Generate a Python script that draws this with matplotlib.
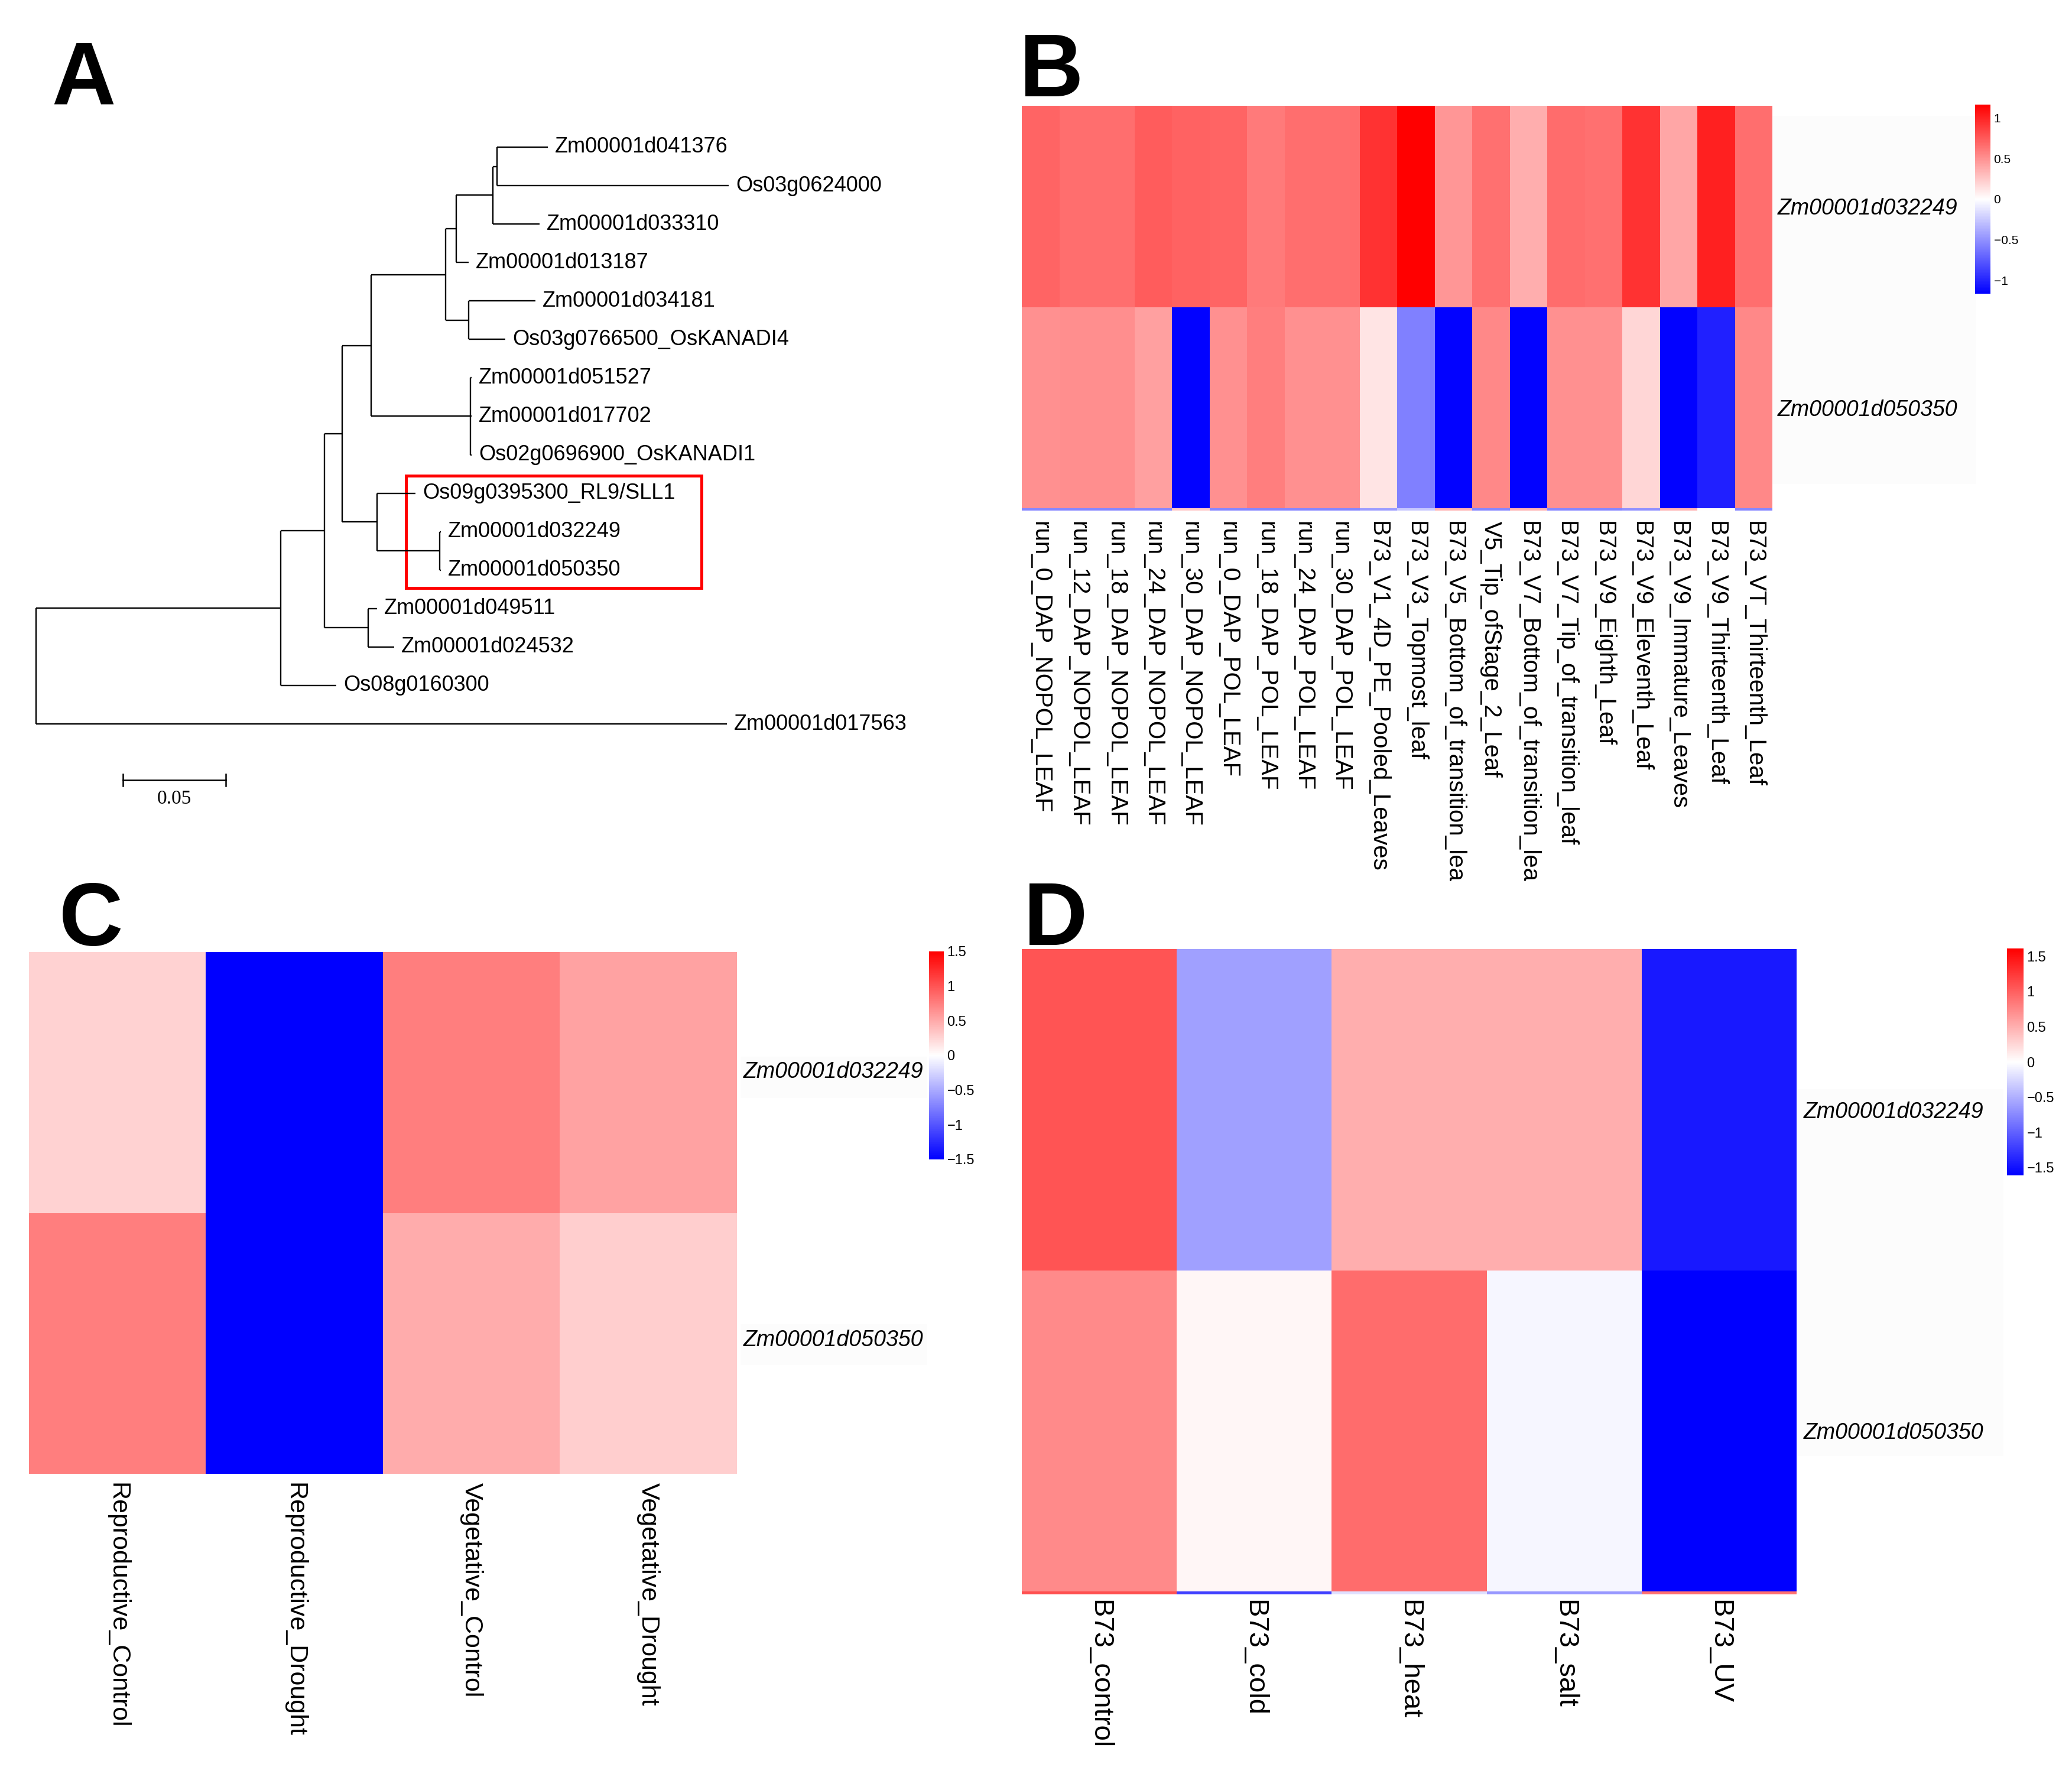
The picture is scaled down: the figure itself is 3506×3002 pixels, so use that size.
import numpy as np
import matplotlib
matplotlib.use('Agg')
import matplotlib.pyplot as plt
from matplotlib.colors import LinearSegmentedColormap, Normalize
from matplotlib.cm import ScalarMappable
from matplotlib.patches import Rectangle

plt.rcParams['font.family'] = ['Liberation Sans', 'DejaVu Sans']

# ---- panel A: tree (branch depth, scale bar = 0.05)
leaf_names = ['Zm00001d041376', 'Os03g0624000', 'Zm00001d033310', 'Zm00001d013187',
              'Zm00001d034181', 'Os03g0766500_OsKANADI4', 'Zm00001d051527',
              'Zm00001d017702', 'Os02g0696900_OsKANADI1', 'Os09g0395300_RL9/SLL1',
              'Zm00001d032249', 'Zm00001d050350', 'Zm00001d049511', 'Zm00001d024532',
              'Os08g0160300', 'Zm00001d017563']
leaf_x = [0.248, 0.336, 0.244, 0.2097, 0.242, 0.2274, 0.2112, 0.2112, 0.2112,
          0.1838, 0.1962, 0.1962, 0.1653, 0.1735, 0.1456, 0.335]
# internal nodes, children first
node_names = ['n13', 'n12', 'n11', 'n10', 'n9', 'n8', 'n7', 'n6', 'n5', 'n4', 'n3', 'n2', 'n1', 'root']
node_x = [0.2235, 0.2215, 0.2038, 0.2097, 0.1985, 0.2106, 0.1624, 0.1956, 0.1653,
          0.1485, 0.161, 0.1397, 0.1185, 0.0]
node_children = [
    ['Zm00001d041376', 'Os03g0624000'],
    ['n13', 'Zm00001d033310'],
    ['n12', 'Zm00001d013187'],
    ['Zm00001d034181', 'Os03g0766500_OsKANADI4'],
    ['n11', 'n10'],
    ['Zm00001d051527', 'Zm00001d017702', 'Os02g0696900_OsKANADI1'],
    ['n9', 'n8'],
    ['Zm00001d032249', 'Zm00001d050350'],
    ['Os09g0395300_RL9/SLL1', 'n6'],
    ['n7', 'n5'],
    ['Zm00001d049511', 'Zm00001d024532'],
    ['n4', 'n3'],
    ['n2', 'Os08g0160300'],
    ['n1', 'Zm00001d017563'],
]

genes = ['Zm00001d032249', 'Zm00001d050350']

# ---- panel B
b_samples = ['run_0_DAP_NOPOL_LEAF', 'run_12_DAP_NOPOL_LEAF', 'run_18_DAP_NOPOL_LEAF',
             'run_24_DAP_NOPOL_LEAF', 'run_30_DAP_NOPOL_LEAF', 'run_0_DAP_POL_LEAF',
             'run_18_DAP_POL_LEAF', 'run_24_DAP_POL_LEAF', 'run_30_DAP_POL_LEAF',
             'B73_V1_4D_PE_Pooled_Leaves', 'B73_V3_Topmost_leaf',
             'B73_V5_Bottom_of_transition_lea', 'V5_Tip_ofStage_2_Leaf',
             'B73_V7_Bottom_of_transition_lea', 'B73_V7_Tip_of_transition_leaf',
             'B73_V9_Eighth_Leaf', 'B73_V9_Eleventh_Leaf', 'B73_V9_Immature_Leaves',
             'B73_V9_Thirteenth_Leaf', 'B73_VT_Thirteenth_Leaf']
b_row1 = [0.70, 0.66, 0.66, 0.74, 0.71, 0.70, 0.60, 0.66, 0.66, 0.93,
          1.16, 0.48, 0.65, 0.37, 0.67, 0.65, 0.93, 0.40, 1.01, 0.66]
b_row2 = [0.50, 0.51, 0.51, 0.43, -1.15, 0.50, 0.58, 0.50, 0.50, 0.12,
          -0.58, -1.15, 0.54, -1.15, 0.50, 0.50, 0.19, -1.15, -1.01, 0.54]
b_edge = [-0.55, -0.55, -0.55, -0.55, 0.25, -0.55, -0.55, -0.55, -0.55, -0.45,
          -0.25, 0.35, -0.55, 0.35, -0.55, -0.55, -0.5, 0.35, 0.0, -0.55]
b_ticks = [-1, -0.5, 0, 0.5, 1]

# ---- panel C
c_samples = ['Reproductive_Control', 'Reproductive_Drought', 'Vegetative_Control', 'Vegetative_Drought']
c_row1 = [0.26, -1.5, 0.75, 0.55]
c_row2 = [0.75, -1.5, 0.49, 0.29]
c_ticks = [-1.5, -1, -0.5, 0, 0.5, 1, 1.5]

# ---- panel D
d_samples = ['B73_control', 'B73_cold', 'B73_heat', 'B73_salt', 'B73_UV']
d_row1 = [1.07, -0.6, 0.51, 0.51, -1.45]
d_row2 = [0.74, 0.06, 0.93, -0.06, -1.61]
d_edge = [1.1, -1.2, -0.2, -0.65, 0.9]
d_ticks = [-1.5, -1, -0.5, 0, 0.5, 1, 1.5]

W, H = 3506, 3002
fig = plt.figure(figsize=(W / 100, H / 100), dpi=100)
cmap = LinearSegmentedColormap.from_list('bwr3', ['#0000ff', '#ffffff', '#ff0000'], N=256)


def box(x0, y0, x1, y1):
    return [x0 / W, 1 - y1 / H, (x1 - x0) / W, (y1 - y0) / H]


def grey_bg(x0, y0, x1, y1):
    fig.add_artist(Rectangle((x0 / W, 1 - y1 / H), (x1 - x0) / W, (y1 - y0) / H,
                             transform=fig.transFigure, fc='#fcfcfc', ec='none', zorder=0))


# ---------------- A
ax = fig.add_axes(box(0, 0, 1700, 1450))
ax.set_facecolor('none')
px_unit = 3488.0
ax.set_xlim(-61.5 / px_unit, (1700 - 61.5) / px_unit)
ax.set_ylim((1450 - 249) / 65.07, -249 / 65.07)
ax.axis('off')

ypos = {n: i for i, n in enumerate(leaf_names)}
xpos = dict(zip(leaf_names, leaf_x))
for name, x, kids in zip(node_names, node_x, node_children):
    ys = [ypos[k] for k in kids]
    ypos[name] = (ys[0] + ys[-1]) / 2
    xpos[name] = x
    ax.plot([x, x], [ys[0], ys[-1]], color='black', lw=1.7, solid_capstyle='butt')
    for k in kids:
        ax.plot([x, xpos[k]], [ypos[k], ypos[k]], color='black', lw=1.7, solid_capstyle='butt')

for i, name in enumerate(leaf_names):
    ax.text(leaf_x[i] + 0.0035, i, name, va='center', ha='left', fontsize=26)

ax.add_patch(Rectangle((0.1793, 8.545), 0.1434, 2.92, fill=False, ec='#ff0000', lw=3.6))

sb_x0 = 0.042
ax.plot([sb_x0, sb_x0 + 0.05], [16.46, 16.46], color='black', lw=1.8)
for xx in (sb_x0, sb_x0 + 0.05):
    ax.plot([xx, xx], [16.30, 16.62], color='black', lw=1.8)
ax.text(sb_x0 + 0.025, 16.95, '0.05', ha='center', va='center', fontsize=24,
        family='Liberation Serif')


# ---------------- heatmaps
def heatmap(rect, rows, edge, edge_px, vlim, samples, xfs, xpad, ypad):
    x0, y0, x1, y1 = rect
    row_px = (y1 - y0) / len(rows)
    data = [list(r) for r in rows]
    yedges = list(range(len(rows) + 1))
    if edge is not None:
        data.append(list(edge))
        yedges.append(len(rows) + edge_px / row_px)
        y1 = y1 + edge_px
    a = fig.add_axes(box(x0, y0, x1, y1))
    a.pcolormesh(np.arange(len(samples) + 1), yedges, np.array(data), cmap=cmap,
                 vmin=-vlim, vmax=vlim, shading='flat', antialiased=False)
    a.set_xlim(0, len(samples))
    a.set_ylim(yedges[-1], 0)
    for s in a.spines.values():
        s.set_visible(False)
    a.set_xticks(np.arange(len(samples)) + 0.5)
    a.set_xticklabels(samples, rotation=-90, fontsize=xfs, ha='center', va='top')
    a.set_yticks(np.arange(len(rows)) + 0.5)
    a.set_yticklabels(genes, fontsize=27, style='italic')
    a.yaxis.tick_right()
    a.tick_params(axis='x', length=0, pad=xpad)
    a.tick_params(axis='y', length=0, pad=ypad)
    return a


def colorbar(rect, vlim, ticks, fs):
    cax = fig.add_axes(box(*rect))
    sm = ScalarMappable(norm=Normalize(-vlim, vlim), cmap=cmap)
    cb = fig.colorbar(sm, cax=cax, ticks=ticks)
    cb.outline.set_visible(False)
    cb.ax.set_yticklabels([f'{t:g}'.replace('-', '\u2212') for t in ticks])
    cax.tick_params(length=0, pad=4, labelsize=fs)


# B
grey_bg(2999, 196, 3343, 819)
heatmap((1729, 179, 2999, 860), [b_row1, b_row2], b_edge, 4, 1.16, b_samples, 29, 13, 6.5)
colorbar((3342, 177, 3368, 497), 1.16, b_ticks, 15)

# C
grey_bg(1253, 1788, 1569, 1858)
grey_bg(1253, 2240, 1569, 2310)
ax_c = heatmap((49, 1611, 1247, 2494), [c_row1, c_row2], None, 0, 1.5, c_samples, 31, 11, 8)
ax_c.set_yticks([0.45, 1.48])
ax_c.set_yticklabels(genes, fontsize=27, style='italic')
colorbar((1572, 1610, 1597, 1962), 1.5, c_ticks, 17)

# D
grey_bg(3042, 1843, 3390, 2464)
heatmap((1729, 1606, 3040, 2693), [d_row1, d_row2], d_edge, 5, 1.61, d_samples, 34, 6.5, 8.6)
colorbar((3396, 1605, 3424, 1989), 1.61, d_ticks, 17)

# panel letters
for letter, x, y in [('A', 87, 175), ('B', 1725, 163), ('C', 100, 1600), ('D', 1732, 1599)]:
    fig.text(x / W, 1 - y / H, letter, fontsize=108, fontweight='bold',
             ha='left', va='baseline')

fig.savefig('out.png', dpi=100)
